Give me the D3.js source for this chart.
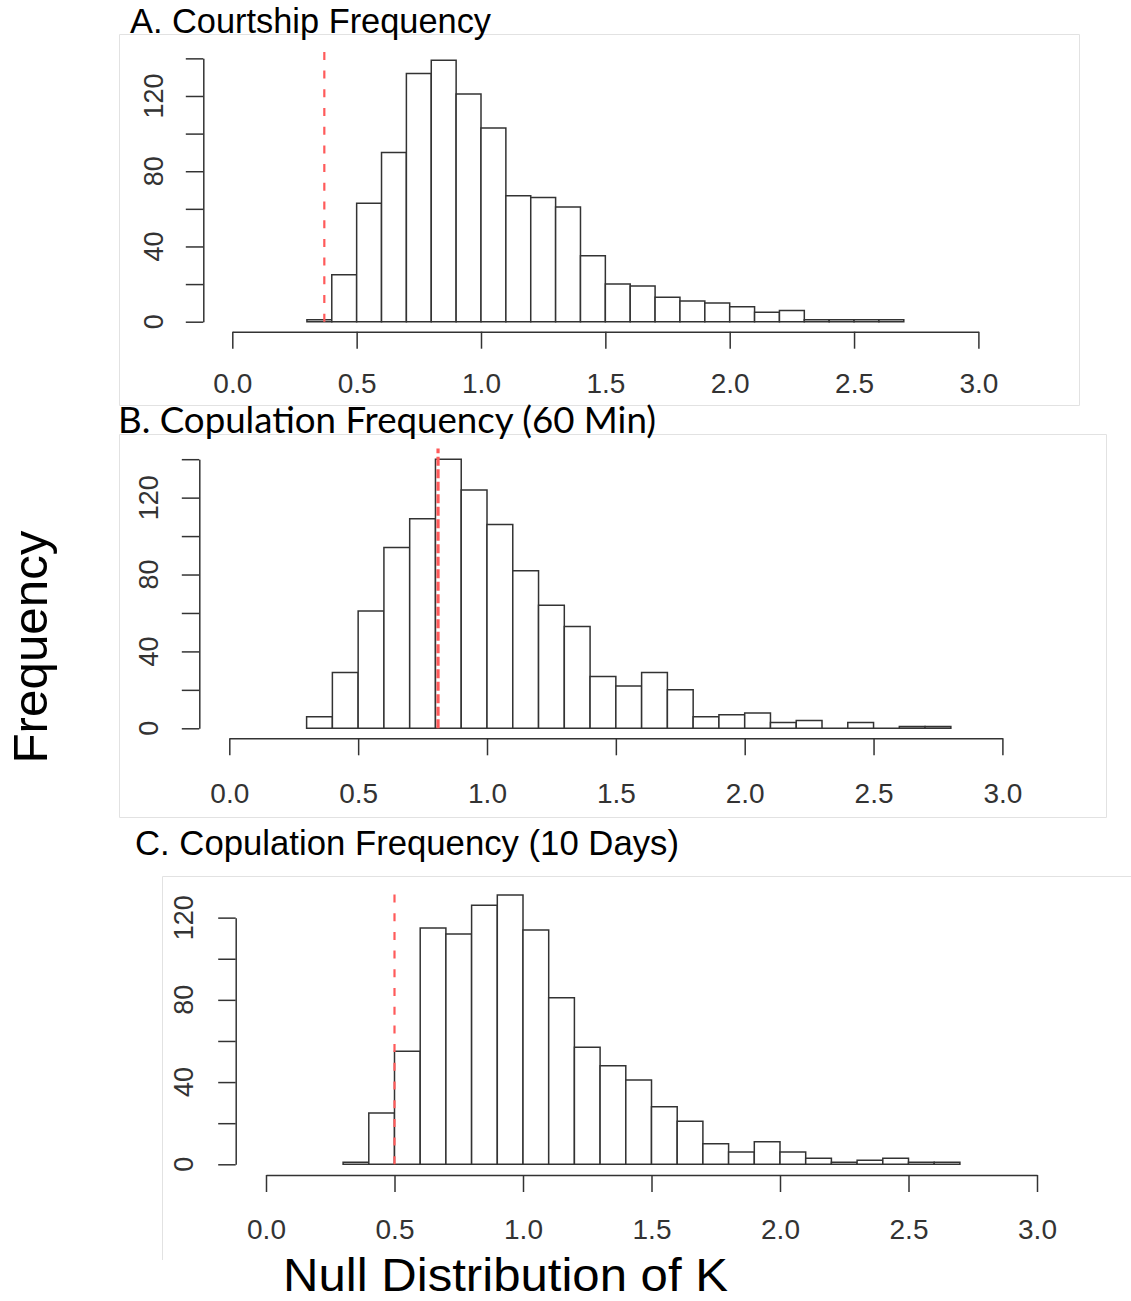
<!DOCTYPE html>
<html>
<head>
<meta charset="utf-8">
<script src="https://cdn.jsdelivr.net/npm/d3@7"></script>
<style>
  html, body { margin: 0; padding: 0; background: #fff; }
  svg { display: block; }
</style>
</head>
<body>
<svg id="fig" width="1131" height="1301"></svg>
<script>
// Null distributions of K from 1000 permutations, 0.1-wide bins from 0.3
const binStart = 0.3;
const binWidth = 0.1;
const courtshipCounts   = [1, 25, 63, 90, 132, 139, 121, 103, 67, 66, 61, 35, 20, 19, 13, 11, 10, 8, 5, 6, 1, 1, 1, 1];
const copulation60Counts = [6, 29, 61, 94, 109, 140, 124, 106, 82, 64, 53, 27, 22, 29, 20, 6, 7, 8, 3, 4, 0, 3, 0, 1, 1];
const copulation10Counts = [1, 25, 55, 115, 112, 126, 131, 114, 81, 57, 48, 41, 28, 21, 10, 6, 11, 6, 3, 1, 2, 3, 1, 1];

// Observed K for each trait (dashed red line)
const observedK = [0.37, 0.81, 0.50];

const panelTitles = [
  "A. Courtship Frequency",
  "B. Copulation Frequency (60 Min)",
  "C. Copulation Frequency (10 Days)"
];

const xTickValues = [0.0, 0.5, 1.0, 1.5, 2.0, 2.5, 3.0];
const yTickStep = 20;
const yLabelValues = [0, 40, 80, 120];
const xAxisTitle = "Null Distribution of K";
const yAxisTitle = "Frequency";

const sans = "'Liberation Sans', Arial, Helvetica, sans-serif";
const humanist = "Lato, 'Open Sans', 'Noto Sans', sans-serif";

// Placement of each histogram panel on the page
const layouts = [
  {
    counts: courtshipCounts, k: observedK[0], title: panelTitles[0],
    frame: { x1: 119.5, y1: 34.5, x2: 1079.5, y2: 405.5, sides: ["l", "t", "r", "b"] },
    titlePos: { x: 130, y: 33.3, len: 361, font: sans, size: 34.5 },
    x0: 232.3, xUnit: 248.7, base: 321.7, yUnit: 1.881, axisY: 331.7, axisX: 203.3,
    xLabelDy: 61.6, yLabelDx: 40,
    kLine: { width: 2.2, dash: "8,10.7" }
  },
  {
    counts: copulation60Counts, k: observedK[1], title: panelTitles[1],
    frame: { x1: 119.5, y1: 434.5, x2: 1106.5, y2: 817.5, sides: ["l", "t", "r", "b"] },
    titlePos: { x: 118, y: 433.3, len: 538, font: humanist, size: 36 },
    x0: 229.3, xUnit: 257.7, base: 728.3, yUnit: 1.9222, axisY: 738.3, axisX: 199.3,
    xLabelDy: 64.4, yLabelDx: 41,
    kLine: { width: 3.2, dash: "9,3.5" }
  },
  {
    counts: copulation10Counts, k: observedK[2], title: panelTitles[2],
    frame: { x1: 162.5, y1: 876.5, x2: 1131, y2: 1260, sides: ["l", "t"] },
    titlePos: { x: 135, y: 855, len: 544, font: sans, size: 34.5 },
    x0: 266, xUnit: 257, base: 1164.3, yUnit: 2.0556, axisY: 1175, axisX: 235.7,
    xLabelDy: 64.3, yLabelDx: 42.4,
    kLine: { width: 2.2, dash: "8,10.7" }
  }
];

const svg = d3.select("#fig");
const ink = "#333";

layouts.forEach(p => {
  const g = svg.append("g");

  // light frame around the plot image
  const f = p.frame;
  const frameLines = {
    l: [f.x1, f.y1, f.x1, f.y2], t: [f.x1, f.y1, f.x2, f.y1],
    r: [f.x2, f.y1, f.x2, f.y2], b: [f.x1, f.y2, f.x2, f.y2]
  };
  p.frame.sides.forEach(s => {
    const [a, b, c, d] = frameLines[s];
    g.append("line").attr("x1", a).attr("y1", b).attr("x2", c).attr("y2", d)
      .attr("stroke", "#e2e2e2").attr("stroke-width", 1);
  });

  // title
  g.append("text")
    .attr("x", p.titlePos.x).attr("y", p.titlePos.y)
    .attr("font-family", p.titlePos.font).attr("font-size", p.titlePos.size)
    .attr("textLength", p.titlePos.len).attr("lengthAdjust", "spacingAndGlyphs")
    .attr("fill", "#000")
    .text(p.title);

  // scales
  const maxCount = d3.max(p.counts);
  const usrTop = maxCount * 1.04;
  const yTicks = d3.range(0, usrTop + 1e-9, yTickStep);
  const yTop = yTicks[yTicks.length - 1];

  const x = d3.scaleLinear().domain([0, 3]).range([p.x0, p.x0 + 3 * p.xUnit]);
  const y = d3.scaleLinear().domain([0, yTop]).range([p.base, p.base - yTop * p.yUnit]);

  // histogram bars (zero-count bins still draw as a flat line)
  const bins = p.counts.map((c, i) => ({
    x0: binStart + i * binWidth,
    x1: binStart + (i + 1) * binWidth,
    n: c
  }));
  g.append("g").selectAll("path")
    .data(bins)
    .join("path")
    .attr("d", d => {
      const a = x(d.x0), b = x(d.x1), t = y(d.n), z = y(0);
      return `M${a},${z}V${t}H${b}V${z}Z`;
    })
    .attr("fill", "#fff")
    .attr("stroke", ink)
    .attr("stroke-width", 1.5)
    .attr("stroke-linejoin", "miter");

  // x axis
  const xg = g.append("g")
    .attr("transform", `translate(0,${p.axisY})`)
    .call(d3.axisBottom(x).tickValues(xTickValues).tickSize(17).tickSizeOuter(0)
      .tickFormat(d3.format(".1f")));
  xg.select(".domain").attr("stroke", ink).attr("stroke-width", 1.5);
  xg.selectAll(".tick line").attr("stroke", ink).attr("stroke-width", 1.5);
  xg.selectAll(".tick text")
    .attr("y", p.xLabelDy).attr("dy", null)
    .attr("font-family", sans).attr("font-size", 28).attr("fill", ink);

  // y axis: ticks every 20, labels every 40
  const yg = g.append("g")
    .attr("transform", `translate(${p.axisX},0)`)
    .call(d3.axisLeft(y).tickValues(yTicks).tickSize(17.5).tickSizeOuter(0).tickFormat(""));
  yg.select(".domain").attr("stroke", ink).attr("stroke-width", 1.5);
  yg.selectAll(".tick line").attr("stroke", ink).attr("stroke-width", 1.5);
  g.append("g").selectAll("text")
    .data(yLabelValues.filter(v => v <= yTop))
    .join("text")
    .attr("transform", d => `translate(${p.axisX - p.yLabelDx},${y(d)}) rotate(-90)`)
    .attr("text-anchor", "middle")
    .attr("font-family", sans).attr("font-size", 27).attr("fill", ink)
    .text(d => d);

  // observed K
  g.append("line")
    .attr("x1", x(p.k)).attr("x2", x(p.k))
    .attr("y1", y(0)).attr("y2", y(usrTop))
    .attr("stroke", "#ff5a5a").attr("stroke-width", p.kLine.width)
    .attr("stroke-dasharray", p.kLine.dash);
});

// shared axis titles
svg.append("text")
  .attr("transform", "translate(47,647) rotate(-90)")
  .attr("text-anchor", "middle")
  .attr("font-family", sans).attr("font-size", 49)
  .attr("textLength", 233).attr("lengthAdjust", "spacingAndGlyphs")
  .attr("fill", "#000")
  .text(yAxisTitle);

svg.append("text")
  .attr("x", 283).attr("y", 1290.5)
  .attr("font-family", sans).attr("font-size", 46)
  .attr("textLength", 445).attr("lengthAdjust", "spacingAndGlyphs")
  .attr("fill", "#000")
  .text(xAxisTitle);
</script>
</body>
</html>
